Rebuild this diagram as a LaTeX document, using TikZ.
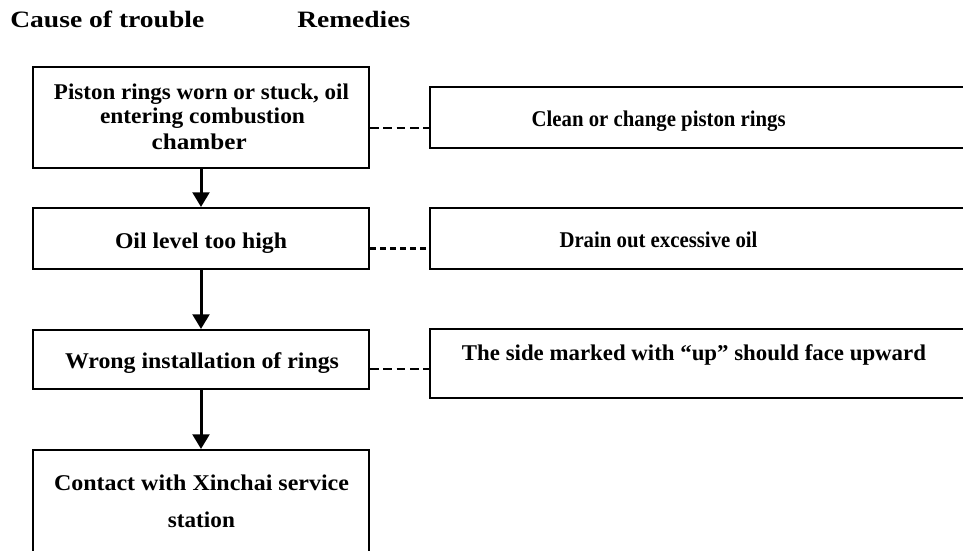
\documentclass[tikz,border=0pt]{standalone}
\usepackage{fontspec}
\usepackage{graphicx}
\setmainfont{Liberation Serif}
\usetikzlibrary{arrows.meta}
% fit a text to a width given in pixels (1px = 0.75pt), keeping its height
\newcommand{\fw}[2]{\resizebox{\dimexpr #1pt*3/4\relax}{\height}{#2}}
\newcommand{\boxf}{\fontsize{16.875pt}{18.75pt}\selectfont\bfseries}
\newcommand{\ttlf}{\fontsize{17.6pt}{20pt}\selectfont\bfseries}
\tikzset{
  box/.style={draw, line width=1.5pt, rectangle, inner sep=0pt, minimum width=252pt},
  rbox/.style={draw, line width=1.5pt, rectangle, inner sep=0pt, minimum width=427.5pt},
  txt/.style={inner sep=0pt, anchor=base, font=\boxf},
  flow/.style={line width=2.25pt, -{Triangle[width=12.5pt,length=11pt]}},
  dash1/.style={line width=1.5pt, dash pattern=on 6.5pt off 3.5pt},
  dash2/.style={line width=2.25pt, dash pattern=on 4.5pt off 3pt},
  ttl/.style={inner sep=0pt, anchor=base west, font=\ttlf}
}
\begin{document}
\begin{tikzpicture}[x=0.75pt, y=-0.75pt]
\useasboundingbox (0,0) rectangle (963,550);
\clip (0,0) rectangle (963,550);
% titles
\node[ttl] (h1) at (10,27.3) {\fw{194}{Cause of trouble}};
\node[ttl] (h2) at (297,27.3) {\fw{113}{Remedies}};
% left boxes
\node[box, minimum height=75.75pt] (b1) at (201,117.5) {};
\node[box, minimum height=45.75pt] (b2) at (201,238.5) {};
\node[box, minimum height=44.25pt] (b3) at (201,359.5) {};
\node[box, minimum height=78.75pt] (b4) at (201,502.5) {};
% right boxes
\node[rbox, minimum height=45.75pt] (rA) at (715,117.5) {};
\node[rbox, minimum height=45.75pt] (rB) at (715,238.5) {};
\node[rbox, minimum height=51.75pt] (rC) at (715,363.5) {};
% texts
\node[txt] (t1a) at (201.5,99) {\fw{295}{Piston rings worn or stuck, oil}};
\node[txt] (t1b) at (202.5,123.5) {\fw{205}{entering combustion}};
\node[txt] (t1c) at (199.2,149) {\fw{95}{chamber}};
\node[txt] (t2) at (201,248.3) {\fw{172}{Oil level too high}};
\node[txt] (t3) at (202,368.3) {\fw{274}{Wrong installation of rings}};
\node[txt] (t4a) at (201.5,490) {\fw{295}{Contact with Xinchai service}};
\node[txt] (t4b) at (201.4,527) {\fw{67}{station}};
\node[txt] (tA) at (658.7,126.7) {\fw{254}{Clean or change piston rings}};
\node[txt] (tB) at (658.5,247.7) {\fw{198}{Drain out excessive oil}};
\node[txt] (tC) at (694,360) {\fw{464}{The side marked with “up” should face upward}};
% flow arrows
\draw[flow] (b1.south) -- (b2.north);
\draw[flow] (b2.south) -- (b3.north);
\draw[flow] (b3.south) -- (b4.north);
% dashed links
\coordinate (d1) at (400,128);
\coordinate (d2) at (400,248);
\coordinate (d3) at (400,369);
\draw[dash1] (b1.east |- d1) -- (rA.west |- d1);
\draw[dash2] (b2.east |- d2) -- (rB.west |- d2);
\draw[dash1] (b3.east |- d3) -- (rC.west |- d3);
\end{tikzpicture}
\end{document}
